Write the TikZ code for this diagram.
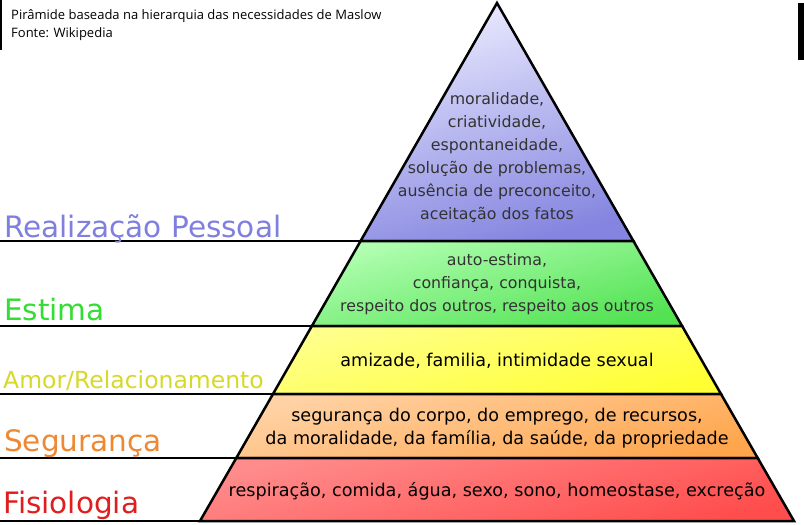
\documentclass[tikz,border=0pt]{standalone}
\usepackage{fontspec}
\setmainfont{DejaVu Sans}
\newfontfamily\capfont{Open Sans}
\usetikzlibrary{positioning}

\definecolor{realcol}{HTML}{7F7FDF}
\definecolor{estcol}{HTML}{33DD33}
\definecolor{amorcol}{HTML}{D8D82A}
\definecolor{segcol}{HTML}{EE8833}
\definecolor{fiscol}{HTML}{E01E1E}
\definecolor{darktext}{HTML}{333333}

\begin{document}
\begin{tikzpicture}[x=1pt,y=-1pt,
    layer/.style={draw=black,line width=2.5pt,line join=miter},
    levelrule/.style={black,line width=2pt},
    levellabel/.style={anchor=base west,inner sep=0pt,font=\fontsize{29.5}{30}\selectfont},
    layertext/.style={align=center,inner sep=0pt,font=\fontsize{15.8}{23}\selectfont},
    lowtext/.style={align=center,inner sep=0pt,font=\fontsize{17.6}{23}\selectfont},
    captext/.style={anchor=base west,inner sep=0pt,font=\capfont\fontsize{13}{13}\selectfont}]
  \useasboundingbox (0,0) rectangle (804,525);
  \fill[white] (0,0) rectangle (804,525);

  % corners of the pyramid
  \coordinate (apex) at (497,3);
  \coordinate (l1) at (360.6,241);  \coordinate (r1) at (633.4,241);
  \coordinate (l2) at (311.9,326);  \coordinate (r2) at (682.1,326);
  \coordinate (l3) at (273,394);    \coordinate (r3) at (721,394);
  \coordinate (l4) at (236.3,458);  \coordinate (r4) at (757.7,458);
  \coordinate (l5) at (200,521);    \coordinate (r5) at (794,521);

  % rules under the level names
  \coordinate (e1) at (0,241);
  \coordinate (e2) at (0,326);
  \coordinate (e3) at (0,394);
  \coordinate (e4) at (0,458);
  \coordinate (e5) at (0,521);
  \draw[levelrule] (e1) -- (l1);
  \draw[levelrule] (e2) -- (l2);
  \draw[levelrule] (e3) -- (l3);
  \draw[levelrule] (e4) -- (l4);
  \draw[levelrule] (e5) -- (l5);

  % levels
  \shade[layer,top color=blue!8,bottom color=realcol!95,shading angle=15] (apex) -- (r1) -- (l1) -- cycle;
  \shade[layer,top color=green!30!white,bottom color=estcol!85!white,shading angle=15] (l1) -- (r1) -- (r2) -- (l2) -- cycle;
  \shade[layer,top color=yellow!45!white,bottom color=yellow!80!white,shading angle=15] (l2) -- (r2) -- (r3) -- (l3) -- cycle;
  \shade[layer,top color=orange!35!white,bottom color=orange!70!white,shading angle=15] (l3) -- (r3) -- (r4) -- (l4) -- cycle;
  \shade[layer,top color=red!45!white,bottom color=red!70!white,shading angle=15] (l4) -- (r4) -- (r5) -- (l5) -- cycle;

  % level names
  \node[levellabel,text=realcol] (realiz) at (4,237) {Realização Pessoal};
  \node[levellabel,text=estcol] (estima) at (4,320) {Estima};
  \node[levellabel,text=amorcol,font=\fontsize{23.5}{24}\selectfont] (amor) at (3,388) {Amor/Relacionamento};
  \node[levellabel,text=segcol] (seguranca) at (4,451) {Segurança};
  \node[levellabel,text=fiscol] (fisio) at (3,513) {Fisiologia};

  % contents of the levels
  \node[layertext,text=darktext] (realtxt) at (497,158) {moralidade,\\criatividade,\\espontaneidade,\\solução de problemas,\\ausência de preconceito,\\aceitação dos fatos};
  \node[layertext,text=darktext] (esttxt) at (497,284) {auto-estima,\\confiança, conquista,\\respeito dos outros, respeito aos outros};
  \node[lowtext] (amortxt) at (497,361) {amizade, familia, intimidade sexual};
  \node[lowtext] (segtxt) at (497,428) {segurança do corpo, do emprego, de recursos,\\da moralidade, da família, da saúde, da propriedade};
  \node[lowtext] (fistxt) at (497,491) {respiração, comida, água, sexo, sono, homeostase, excreção};

  % caption
  \fill[white] (0,0) rectangle (378,48);
  \node[captext] (caption) at (11,19) {Pirâmide baseada na hierarquia das necessidades de Maslow};
  \node[captext] (source) at (11,37) {Fonte: Wikipedia};
  \fill[black] (0,0) rectangle (2,50);
  \fill[black] (798,3) rectangle (804,60);
\end{tikzpicture}
\end{document}
